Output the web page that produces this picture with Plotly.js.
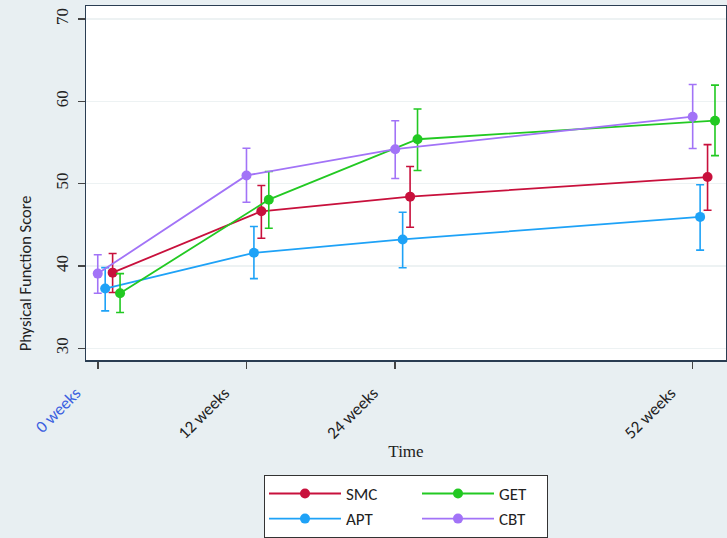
<!DOCTYPE html>
<html>
<head>
<meta charset="utf-8">
<script src="https://cdn.plot.ly/plotly-3.0.1.min.js"></script>
<style>html,body{margin:0;padding:0;background:#e8eff2;}#chart{width:727px;height:538px;}</style>
</head>
<body>
<div id="chart"></div>
<script>
// Time points (ordinal visit position on the axis) and tick labels
const visitPos = [0, 1, 2, 4];
const tickLabels = ['<span style="color:#3b5fe0">0 weeks</span>', '12 weeks', '24 weeks', '52 weeks'];

// Group names
const groups = ['SMC', 'APT', 'GET', 'CBT'];

// Means and 95% CI bounds
const smcMean  = [39.19, 46.64, 48.42, 50.80];
const smcUpper = [41.52, 49.78, 52.08, 54.74];
const smcLower = [36.77, 43.37, 44.70, 46.76];

const aptMean  = [37.26, 41.60, 43.22, 45.96];
const aptUpper = [39.80, 44.79, 46.52, 49.87];
const aptLower = [34.55, 38.46, 39.79, 41.92];

const getMean  = [36.69, 48.05, 55.39, 57.64];
const getUpper = [39.07, 51.48, 59.06, 61.96];
const getLower = [34.35, 44.58, 51.60, 53.40];

const cbtMean  = [39.07, 50.99, 54.18, 58.13];
const cbtUpper = [41.37, 54.30, 57.64, 62.04];
const cbtLower = [36.69, 47.73, 50.63, 54.26];

const colors = {SMC: '#c8103c', APT: '#1ea2f7', GET: '#22c922', CBT: '#a273f7'};
// dodge index so groups don't overlap (CBT, APT, SMC, GET from left)
const dodge = {CBT: 0, APT: 1, SMC: 2, GET: 3};
const dodgeStep = 0.05;
const legendGroup = {SMC: 'a', APT: 'a', GET: 'b', CBT: 'b'};
// padding after legend names to widen the columns
const legendPad = {SMC: '\u00a0'.repeat(9), APT: '\u00a0'.repeat(9), GET: '\u00a0'.repeat(4), CBT: '\u00a0'.repeat(4)};

const series = {
  SMC: [smcMean, smcUpper, smcLower],
  APT: [aptMean, aptUpper, aptLower],
  GET: [getMean, getUpper, getLower],
  CBT: [cbtMean, cbtUpper, cbtLower]
};

const traces = groups.map(g => {
  const [m, u, l] = series[g];
  return {
    type: 'scatter',
    mode: 'lines+markers',
    name: g + legendPad[g],
    legendgroup: legendGroup[g],
    x: visitPos.map(p => p + dodge[g] * dodgeStep),
    y: m,
    line: {color: colors[g], width: 1.8},
    marker: {color: colors[g], size: 10},
    error_y: {
      type: 'data', symmetric: false,
      array: u.map((v, i) => v - m[i]),
      arrayminus: m.map((v, i) => v - l[i]),
      color: colors[g], thickness: 1.6, width: 4
    }
  };
});

const sans = 'Carlito, Lato, sans-serif';
const serif = '"Liberation Serif", "Times New Roman", serif';

const layout = {
  width: 727, height: 538,
  margin: {l: 86, r: 1, t: 6, b: 177},
  paper_bgcolor: '#e8eff2',
  plot_bgcolor: '#ffffff',
  showlegend: true,
  xaxis: {
    range: [-0.079, 4.224],
    tickvals: visitPos,
    ticktext: tickLabels,
    tickangle: -45,
    tickfont: {family: sans, size: 17, color: '#222'},
    ticks: 'outside', ticklen: 7, tickwidth: 1.5, tickcolor: '#444',
    ticklabelstandoff: 8, ticklabelshift: -22,
    showgrid: false, zeroline: false,
    showline: true, linecolor: '#2a3d52', linewidth: 1.5, mirror: true,
    title: {text: 'Time', font: {family: serif, size: 17, color: '#222'}, standoff: 2}
  },
  yaxis: {
    range: [28.58, 71.57],
    tickvals: [30, 40, 50, 60, 70],
    tickangle: -90,
    tickfont: {family: serif, size: 17, color: '#222'},
    ticks: 'outside', ticklen: 7, tickwidth: 1.5, tickcolor: '#444',
    ticklabelstandoff: 3,
    showgrid: true, gridcolor: '#edf2f3', gridwidth: 1.5,
    zeroline: false,
    showline: true, linecolor: '#2a3d52', linewidth: 1.5, mirror: true
  },
  annotations: [{
    text: 'Physical Function Score',
    xref: 'paper', yref: 'paper',
    x: -0.0953, y: 0.245, xanchor: 'center', yanchor: 'middle',
    textangle: -90, showarrow: false,
    font: {family: sans, size: 16.5, color: '#222'}
  }],
  legend: {
    orientation: 'h',
    traceorder: 'grouped',
    x: 0.5, xanchor: 'center',
    y: -0.321, yanchor: 'top',
    bgcolor: '#ffffff', bordercolor: '#333333', borderwidth: 1,
    font: {family: sans, size: 17, color: '#222'},
    itemwidth: 72,
    tracegroupgap: 0
  }
};

Plotly.newPlot('chart', traces, layout, {displayModeBar: false, staticPlot: true});
</script>
</body>
</html>
